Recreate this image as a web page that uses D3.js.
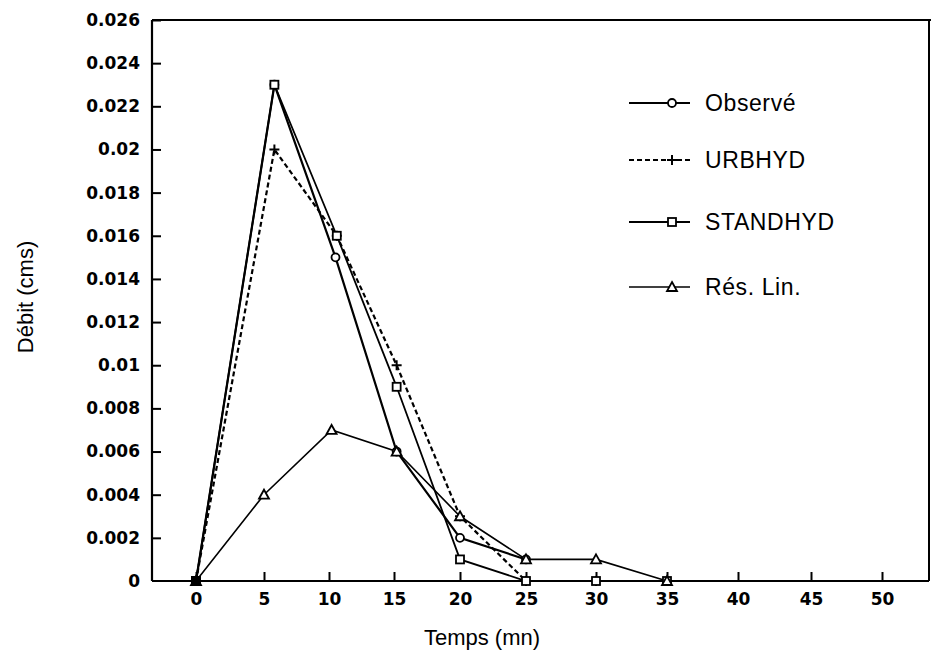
<!DOCTYPE html>
<html>
<head>
<meta charset="utf-8">
<script src="https://cdn.jsdelivr.net/npm/d3@7/dist/d3.min.js"></script>
<style>
  html, body { margin: 0; padding: 0; background: #fff; }
  svg { display: block; }
  .tick text { font-family: "DejaVu Sans", sans-serif; font-weight: bold; font-size: 17px; fill: #000; }
  .title { font-family: "Liberation Sans", Arial, sans-serif; font-size: 22px; fill: #000; }
  .leg { font-family: "Liberation Sans", Arial, sans-serif; font-size: 23px; fill: #000; letter-spacing: 0.6px; }
</style>
</head>
<body>
<svg id="chart" width="931" height="658"></svg>
<script>
// ---- data ----
const xTickValues = [0, 5, 10, 15, 20, 25, 30, 35, 40, 45, 50];
const xTickLabels = ["0", "5", "10", "15", "20", "25", "30", "35", "40", "45", "50"];
const yTickValues = [0, 0.002, 0.004, 0.006, 0.008, 0.01, 0.012, 0.014, 0.016, 0.018, 0.02, 0.022, 0.024, 0.026];
const yTickLabels = ["0", "0.002", "0.004", "0.006", "0.008", "0.01", "0.012", "0.014", "0.016", "0.018", "0.02", "0.022", "0.024", "0.026"];

const timeObserve = [0, 5.8, 10.5, 15.2, 20, 25];
const observe     = [0, 0.023, 0.015, 0.006, 0.002, 0.001];

const timeUrbhyd  = [0, 5.8, 10.6, 15.2, 20, 25, 30, 35];
const urbhyd      = [0, 0.020, 0.016, 0.010, 0.003, 0, 0, 0];

const timeStandhyd = [0, 5.8, 10.6, 15.2, 20, 25, 30, 35];
const standhyd     = [0, 0.023, 0.016, 0.009, 0.001, 0, 0, 0];

const timeResLin = [0, 5, 10.2, 15.2, 20, 25, 30, 35];
const resLin     = [0, 0.004, 0.007, 0.006, 0.003, 0.001, 0.001, 0];

const seriesNames = ["Observé", "URBHYD", "STANDHYD", "Rés. Lin."];

// ---- layout ----
const svg = d3.select("#chart");
const axisY0 = 581, axisYTop = 20, axisX0 = 152, frameRight = 929;

// scanned axis is slightly uneven; polylinear scale follows the tick positions
const x = d3.scaleLinear()
  .domain(xTickValues)
  .range([196, 264, 329, 394, 460, 526, 596, 667, 738, 811, 882]);
const y = d3.scaleLinear().domain([0, 0.026]).range([axisY0, axisYTop]);

// frame
const frame = svg.append("g").attr("stroke", "#000").attr("fill", "none");
frame.append("line").attr("x1", axisX0).attr("x2", frameRight).attr("y1", axisY0).attr("y2", axisY0).attr("stroke-width", 2.2);
frame.append("line").attr("x1", axisX0).attr("x2", axisX0).attr("y1", axisY0).attr("y2", axisYTop).attr("stroke-width", 2.2);
frame.append("line").attr("x1", axisX0).attr("x2", 931).attr("y1", axisYTop).attr("y2", axisYTop).attr("stroke-width", 2.2);
frame.append("line").attr("x1", frameRight).attr("x2", frameRight).attr("y1", axisYTop).attr("y2", axisY0).attr("stroke-width", 2);

// axes
const xAxis = d3.axisBottom(x)
  .tickValues(xTickValues)
  .tickFormat((d, i) => xTickLabels[i])
  .tickSizeInner(-9).tickSizeOuter(0).tickPadding(12);
const gx = svg.append("g").attr("transform", `translate(0,${axisY0})`).call(xAxis);
gx.select(".domain").remove();
gx.selectAll(".tick line").attr("stroke", "#000").attr("stroke-width", 2);

const yAxis = d3.axisLeft(y)
  .tickValues(yTickValues)
  .tickFormat((d, i) => yTickLabels[i])
  .tickSizeInner(-9).tickSizeOuter(0).tickPadding(12);
const gy = svg.append("g").attr("transform", `translate(${axisX0},0)`).call(yAxis);
gy.select(".domain").remove();
gy.selectAll(".tick line").attr("stroke", "#000").attr("stroke-width", 2);
gy.selectAll(".tick").filter(d => d === 0).select("line").remove();

// titles
svg.append("text").attr("class", "title").attr("x", 482).attr("y", 645)
  .attr("text-anchor", "middle").text("Temps (mn)");
svg.append("text").attr("class", "title")
  .attr("transform", "translate(33,297) rotate(-90)")
  .attr("text-anchor", "middle").text("Débit (cms)");

// series
const series = [
  { t: timeObserve,  v: observe,  dash: null,  w: 2.2, marker: "circle" },
  { t: timeUrbhyd,   v: urbhyd,   dash: "5,3", w: 2.2, marker: "plus" },
  { t: timeStandhyd, v: standhyd, dash: null,  w: 1.8, marker: "square" },
  { t: timeResLin,   v: resLin,   dash: null,  w: 1.6, marker: "triangle" }
];

const line = d3.line().x(d => x(d[0])).y(d => y(d[1]));

function drawMarker(g, type, cx, cy) {
  if (type === "circle") {
    g.append("circle").attr("cx", cx).attr("cy", cy).attr("r", 4)
      .attr("fill", "#fff").attr("stroke", "#000").attr("stroke-width", 1.8);
  } else if (type === "square") {
    g.append("rect").attr("x", cx - 4).attr("y", cy - 4).attr("width", 8).attr("height", 8)
      .attr("fill", "#fff").attr("stroke", "#000").attr("stroke-width", 1.8);
  } else if (type === "triangle") {
    g.append("path").attr("d", `M${cx},${cy - 5}L${cx + 5},${cy + 4}L${cx - 5},${cy + 4}Z`)
      .attr("fill", "#fff").attr("stroke", "#000").attr("stroke-width", 1.8);
  } else if (type === "plus") {
    g.append("path").attr("d", `M${cx - 5},${cy}H${cx + 5}M${cx},${cy - 5}V${cy + 5}`)
      .attr("fill", "none").attr("stroke", "#000").attr("stroke-width", 2);
  }
}

const plot = svg.append("g");
series.forEach(s => {
  const pts = s.t.map((t, i) => [t, s.v[i]]);
  plot.append("path").attr("d", line(pts)).attr("fill", "none")
    .attr("stroke", "#000").attr("stroke-width", s.w)
    .attr("stroke-dasharray", s.dash);
});
series.forEach(s => {
  s.t.forEach((t, i) => drawMarker(plot, s.marker, x(t), y(s.v[i])));
});
// origin blob where all series overlap
plot.append("rect").attr("x", x(0) - 5).attr("y", y(0) - 5).attr("width", 10).attr("height", 8).attr("fill", "#000");

// legend
const legY = [103, 160, 222, 287];
const leg = svg.append("g");
series.forEach((s, i) => {
  const ly = legY[i];
  leg.append("line").attr("x1", 629).attr("x2", 690).attr("y1", ly).attr("y2", ly)
    .attr("stroke", "#000").attr("stroke-width", s.w).attr("stroke-dasharray", s.dash);
  drawMarker(leg, s.marker, 672, ly);
  leg.append("text").attr("class", "leg").attr("x", 705).attr("y", ly + 8).text(seriesNames[i]);
});
</script>
</body>
</html>
